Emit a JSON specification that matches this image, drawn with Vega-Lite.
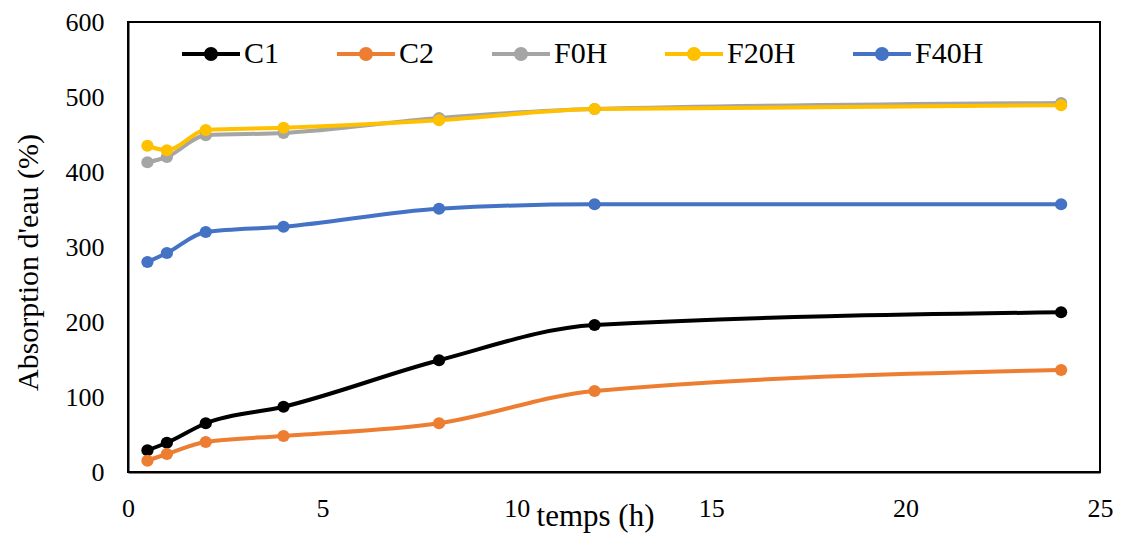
{
  "$schema": "https://vega.github.io/schema/vega-lite/v6.json",
  "width": 972,
  "height": 450,
  "autosize": {"type": "none"},
  "padding": {"left": 128, "top": 22, "right": 26, "bottom": 69},
  "background": "white",
  "config": {
    "view": {"stroke": "black", "strokeWidth": 2},
    "font": "Liberation Serif"
  },
  "data": {
    "values": [
      {"t": 0.5, "v": 29, "s": "C1"},
      {"t": 1, "v": 39, "s": "C1"},
      {"t": 2, "v": 65, "s": "C1"},
      {"t": 4, "v": 87, "s": "C1"},
      {"t": 8, "v": 149, "s": "C1"},
      {"t": 12, "v": 196, "s": "C1"},
      {"t": 24, "v": 213, "s": "C1"},
      {"t": 0.5, "v": 15, "s": "C2"},
      {"t": 1, "v": 24, "s": "C2"},
      {"t": 2, "v": 40, "s": "C2"},
      {"t": 4, "v": 48, "s": "C2"},
      {"t": 8, "v": 65, "s": "C2"},
      {"t": 12, "v": 108, "s": "C2"},
      {"t": 24, "v": 136, "s": "C2"},
      {"t": 0.5, "v": 413, "s": "F0H"},
      {"t": 1, "v": 420, "s": "F0H"},
      {"t": 2, "v": 449, "s": "F0H"},
      {"t": 4, "v": 452, "s": "F0H"},
      {"t": 8, "v": 472, "s": "F0H"},
      {"t": 12, "v": 484, "s": "F0H"},
      {"t": 24, "v": 492, "s": "F0H"},
      {"t": 0.5, "v": 435, "s": "F20H"},
      {"t": 1, "v": 429, "s": "F20H"},
      {"t": 2, "v": 456, "s": "F20H"},
      {"t": 4, "v": 459, "s": "F20H"},
      {"t": 8, "v": 469, "s": "F20H"},
      {"t": 12, "v": 484, "s": "F20H"},
      {"t": 24, "v": 489, "s": "F20H"},
      {"t": 0.5, "v": 280, "s": "F40H"},
      {"t": 1, "v": 292, "s": "F40H"},
      {"t": 2, "v": 320, "s": "F40H"},
      {"t": 4, "v": 327, "s": "F40H"},
      {"t": 8, "v": 351, "s": "F40H"},
      {"t": 12, "v": 357, "s": "F40H"},
      {"t": 24, "v": 357, "s": "F40H"}
    ]
  },
  "encoding": {
    "x": {
      "field": "t", "type": "quantitative",
      "scale": {"domain": [0, 25], "nice": false, "zero": false},
      "axis": {
        "title": "temps (h)", "values": [0, 5, 10, 15, 20, 25],
        "grid": false, "ticks": false, "domainColor": "black", "domainWidth": 2,
        "labelFont": "Liberation Serif", "labelFontSize": 26, "labelColor": "black",
        "labelPadding": 23, "labelFlush": false,
        "titleFont": "Liberation Serif", "titleFontSize": 31, "titleFontWeight": "normal",
        "titleColor": "black", "titleX": 467, "titleY": 29, "titleBaseline": "top", "titleAlign": "center"
      }
    },
    "y": {
      "field": "v", "type": "quantitative",
      "scale": {"domain": [0, 600], "nice": false},
      "axis": {
        "title": "Absorption d'eau (%)", "values": [0, 100, 200, 300, 400, 500, 600],
        "grid": false, "ticks": false, "domainColor": "black", "domainWidth": 2,
        "labelFont": "Liberation Serif", "labelFontSize": 26, "labelColor": "black",
        "labelPadding": 24, "labelFlush": false,
        "titleFont": "Liberation Serif", "titleFontSize": 30, "titleFontWeight": "normal",
        "titleColor": "black", "titleX": -100, "titleY": 240, "titleBaseline": "middle",
        "titleAlign": "center", "titleAngle": 270
      }
    },
    "color": {
      "field": "s", "type": "nominal",
      "scale": {
        "domain": ["C1", "C2", "F0H", "F20H", "F40H"],
        "range": ["#000000", "#ED7D31", "#A5A5A5", "#FFC000", "#4472C4"]
      },
      "legend": {
        "title": null, "orient": "none", "legendX": 54, "legendY": 3,
        "direction": "horizontal", "columns": 5, "gridAlign": "none",
        "columnPadding": 57,
        "labelFont": "Liberation Serif", "labelFontSize": 30, "labelColor": "black",
        "labelOffset": 4,
        "symbolType": "M-1,-0.07L1,-0.07L1,0.07L-1,0.07Z M-0.24,0A0.24,0.24 0 1,1 0.24,0A0.24,0.24 0 1,1 -0.24,0Z",
        "symbolSize": 3364,
        "symbolStrokeWidth": 0,
        "encode": {
          "symbols": {"update": {"fill": {"signal": "scale('color', datum.value)"}, "strokeWidth": {"value": 0}, "opacity": {"value": 1}}}
        }
      }
    }
  },
  "layer": [
    {"mark": {"type": "line", "interpolate": "monotone", "strokeWidth": 4}},
    {"mark": {"type": "point", "filled": true, "size": 150, "opacity": 1}}
  ]
}
